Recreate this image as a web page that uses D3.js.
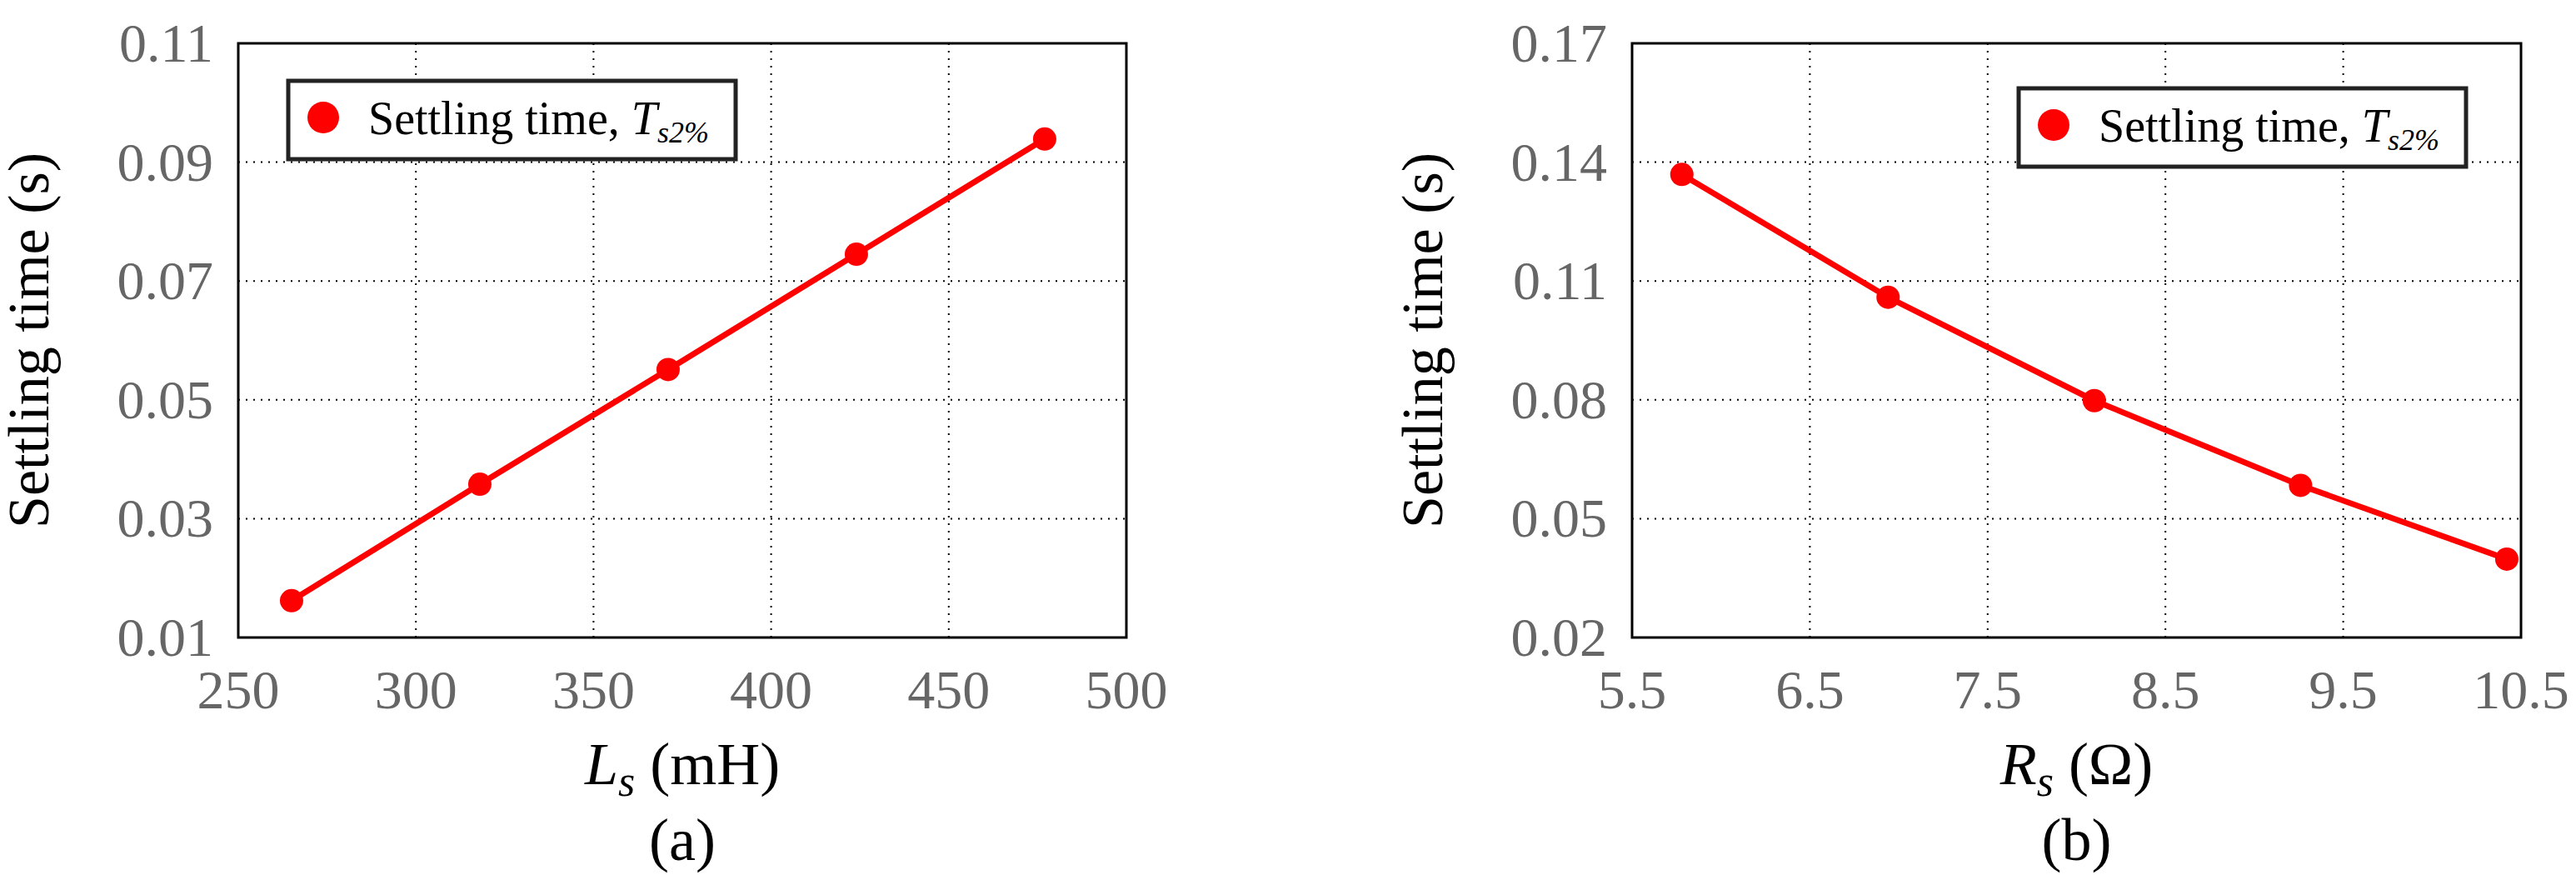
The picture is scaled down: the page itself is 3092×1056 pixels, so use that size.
<!DOCTYPE html>
<html>
<head>
<meta charset="utf-8">
<script src="https://cdn.jsdelivr.net/npm/d3@7"></script>
<style>
  body { margin: 0; background: #fff; }
  text { font-family: "Liberation Serif", "Times New Roman", serif; }
</style>
</head>
<body>
<svg id="fig" width="3092" height="1056"></svg>
<script>
// panel (a): settling time vs Ls
const lsValues = [265, 318, 371, 424, 477]
const lsSettling = [0.0162, 0.0358, 0.0551, 0.0745, 0.0939]
const lsTicks = [250, 300, 350, 400, 450, 500]
const lsYTicks = [0.01, 0.03, 0.05, 0.07, 0.09, 0.11]

// panel (b): settling time vs Rs
const rsValues = [5.78, 6.94, 8.10, 9.26, 10.42]
const rsSettling = [0.1369, 0.1059, 0.0798, 0.0584, 0.0398]
const rsTicks = [5.5, 6.5, 7.5, 8.5, 9.5, 10.5]
const rsYTicks = [0.02, 0.05, 0.08, 0.11, 0.14, 0.17]

const svg = d3.select('#fig')
const plotTop = 52, plotBottom = 765

const drawPanel = (opts) => {
  const x = d3.scaleLinear().domain(d3.extent(opts.xTicks)).range([opts.left, opts.right])
  const y = d3.scaleLinear().domain(d3.extent(opts.yTicks)).range([plotBottom, plotTop])
  const g = svg.append('g')

  // dotted grid
  g.selectAll('.gx').data(opts.xTicks.slice(1, -1)).join('line')
    .attr('x1', d => x(d)).attr('x2', d => x(d)).attr('y1', plotTop).attr('y2', plotBottom)
    .attr('stroke', '#000').attr('stroke-width', 2).attr('stroke-dasharray', '2,7')
  g.selectAll('.gy').data(opts.yTicks.slice(1, -1)).join('line')
    .attr('y1', d => y(d)).attr('y2', d => y(d)).attr('x1', opts.left).attr('x2', opts.right)
    .attr('stroke', '#000').attr('stroke-width', 2).attr('stroke-dasharray', '2,7')

  g.append('rect').attr('x', opts.left).attr('y', plotTop)
    .attr('width', opts.right - opts.left).attr('height', plotBottom - plotTop)
    .attr('fill', 'none').attr('stroke', '#000').attr('stroke-width', 3)

  // tick labels
  g.selectAll('.tx').data(opts.xTicks).join('text')
    .attr('x', d => x(d)).attr('y', 850).attr('text-anchor', 'middle')
    .attr('font-size', 66).attr('fill', '#666')
    .text(d => opts.xFmt(d))
  g.selectAll('.ty').data(opts.yTicks).join('text')
    .attr('x', opts.left - 30).attr('y', d => y(d) + 22).attr('text-anchor', 'end')
    .attr('font-size', 66).attr('fill', '#666')
    .text(d => d3.format('.2f')(d))

  // y axis title
  g.append('text')
    .attr('transform', `translate(${opts.left - 228},${(plotTop + plotBottom) / 2}) rotate(-90)`)
    .attr('text-anchor', 'middle').attr('font-size', 70)
    .attr('font-family', '"DejaVu Serif", serif')
    .text('Settling time (s)')

  // x axis title
  const xt = g.append('text').attr('x', (opts.left + opts.right) / 2).attr('y', 941)
    .attr('text-anchor', 'middle').attr('font-size', 72)
  xt.append('tspan').attr('font-style', 'italic').text(opts.sym)
  xt.append('tspan').attr('font-style', 'italic').attr('font-size', 52).attr('dy', 14).text('s')
  xt.append('tspan').attr('dy', -14).text(' ' + opts.unit)

  g.append('text').attr('x', (opts.left + opts.right) / 2).attr('y', 1032)
    .attr('text-anchor', 'middle').attr('font-size', 72).text(opts.label)

  // series
  const pts = opts.xs.map((v, i) => [v, opts.ys[i]])
  g.append('path').datum(pts)
    .attr('d', d3.line().x(d => x(d[0])).y(d => y(d[1])))
    .attr('fill', 'none').attr('stroke', '#f00').attr('stroke-width', 7)
  g.selectAll('.pt').data(pts).join('circle')
    .attr('cx', d => x(d[0])).attr('cy', d => y(d[1])).attr('r', 14).attr('fill', '#f00')

  // legend
  const lg = opts.legend
  g.append('rect').attr('x', lg.x).attr('y', lg.y).attr('width', lg.w).attr('height', 94)
    .attr('fill', '#fff').attr('stroke', '#222').attr('stroke-width', 5)
  g.append('circle').attr('cx', lg.x + 42).attr('cy', lg.y + 44).attr('r', 19).attr('fill', '#f00')
  const lt = g.append('text').attr('x', lg.x + 96).attr('y', lg.y + 64).attr('font-size', 56)
  lt.append('tspan').text('Settling time, ')
  lt.append('tspan').attr('font-style', 'italic').text('T')
  lt.append('tspan').attr('font-style', 'italic').attr('font-size', 36).attr('dy', 10).text('s2%')
}

drawPanel({
  left: 286, right: 1352, xs: lsValues, ys: lsSettling, xTicks: lsTicks, yTicks: lsYTicks,
  xFmt: d3.format('d'), sym: 'L', unit: '(mH)', label: '(a)',
  legend: { x: 346, y: 97, w: 537 }
})
drawPanel({
  left: 1959, right: 3026, xs: rsValues, ys: rsSettling, xTicks: rsTicks, yTicks: rsYTicks,
  xFmt: d3.format('.1f'), sym: 'R', unit: '(Ω)', label: '(b)',
  legend: { x: 2423, y: 106, w: 537 }
})
</script>
</body>
</html>
